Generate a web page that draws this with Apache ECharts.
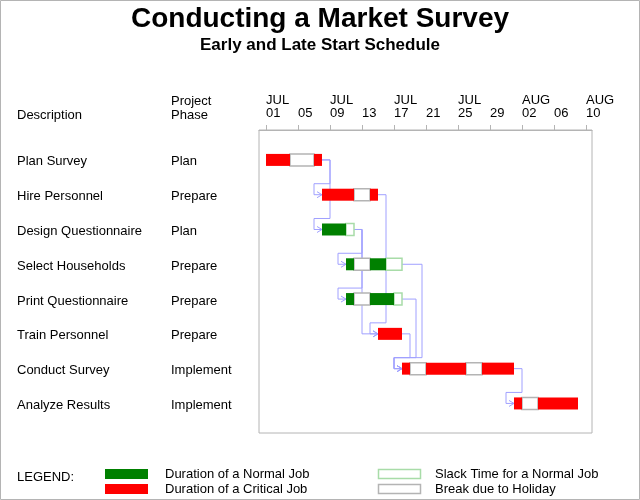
<!DOCTYPE html>
<html>
<head>
<meta charset="utf-8">
<script src="https://cdn.jsdelivr.net/npm/echarts@6/dist/echarts.min.js"></script>
<style>
html,body{margin:0;padding:0;background:#fff;}
#chart{width:640px;height:500px;}
</style>
</head>
<body>
<div id="chart"></div>
<script>
// ---- Data (days counted from JUL 01) ----
const taskNames = ['Plan Survey','Hire Personnel','Design Questionnaire','Select Households','Print Questionnaire','Train Personnel','Conduct Survey','Analyze Results'];
const taskPhases = ['Plan','Prepare','Plan','Prepare','Prepare','Prepare','Implement','Implement'];
const tickDays = [0,4,8,12,16,20,24,28,32,36,40];
const monthNames = ['JAN','FEB','MAR','APR','MAY','JUN','JUL','AUG','SEP','OCT','NOV','DEC'];
// [row, startDay, endDay]
const criticalSegs = [[0,0,3],[0,6,7],[1,7,11],[1,13,14],[5,14,17],[6,17,18],[6,20,25],[6,27,31],[7,31,32],[7,34,39]];
const normalSegs = [[2,7,10],[3,10,11],[3,13,15],[4,10,11],[4,13,16]];
const slackSegs = [[2,10,11],[3,15,17],[4,16,17]];
const holidaySegs = [[0,3,6],[1,11,13],[3,11,13],[4,11,13],[6,18,20],[6,25,27],[7,32,34]];
// precedence links [fromRow, toRow]
const links = [[0,1],[0,2],[1,5],[2,5],[2,3],[2,4],[3,6],[4,6],[5,6],[6,7]];
const legendItems = ['Duration of a Normal Job','Duration of a Critical Job','Slack Time for a Normal Job','Break due to Holiday'];

const FONT = '"Liberation Sans", Arial, sans-serif';
const allSegs = criticalSegs.concat(normalSegs, slackSegs, holidaySegs);
function rowEnd(r){ return Math.max.apply(null, allSegs.filter(s=>s[0]===r).map(s=>s[2])); }
function rowStart(r){ return Math.min.apply(null, allSegs.filter(s=>s[0]===r).map(s=>s[1])); }

// link data with stagger index for links sharing target and source end
const linkData = [];
const groups = {};
links.forEach(l => {
  const key = l[1] + '_' + rowEnd(l[0]);
  (groups[key] = groups[key] || []).push(l);
});
Object.keys(groups).forEach(k => {
  const g = groups[k].slice().sort((a,b)=>b[0]-a[0]);
  g.forEach((l,i) => linkData.push([rowEnd(l[0]), l[0], rowStart(l[1]), l[1], i]));
});

function barSeries(name, data, fill, stroke){
  return {
    type:'custom', name, z:5,
    data,
    encode:{x:[1,2], y:0},
    renderItem(params, api){
      const r = api.value(0), s = api.value(1), e = api.value(2);
      const p0 = api.coord([s, r]), p1 = api.coord([e, r]);
      const h = 12;
      return {type:'rect', shape:{x:p0[0], y:p0[1]-h/2, width:p1[0]-p0[0], height:h},
        style:{fill, stroke: stroke || null, lineWidth: stroke ? 1.5 : 0}};
    }
  };
}

const linkColor = '#a0a0ff';
const option = {
  animation:false,
  backgroundColor:'#fff',
  title:[
    {text:'Conducting a Market Survey', left:'center', top:0,
     textStyle:{fontFamily:FONT, fontSize:28, fontWeight:'bold', color:'#000'}},
    {text:'Early and Late Start Schedule', left:'center', top:32,
     textStyle:{fontFamily:FONT, fontSize:17, fontWeight:'bold', color:'#000'}}
  ],
  grid:{left:259, right:48, top:130, bottom:67, show:true, borderColor:'#b4b4b4', borderWidth:1, backgroundColor:'transparent'},
  xAxis:{
    type:'value', position:'top', min:-0.875, max:40.75,
    splitLine:{show:false},
    axisLine:{show:true, onZero:false, lineStyle:{color:'#b4b4b4'}},
    axisTick:{show:true, customValues:tickDays, length:5, inside:false, lineStyle:{color:'#b4b4b4'}},
    axisLabel:{
      customValues:tickDays, align:'left', margin:10, lineHeight:13,
      fontFamily:FONT, fontSize:13, color:'#000',
      formatter(v){
        const d = new Date(2003, 6, 1 + Math.round(v));
        const idx = tickDays.indexOf(Math.round(v));
        const day = String(d.getDate()).padStart(2,'0');
        return (idx % 2 === 0 ? monthNames[d.getMonth()] : ' ') + '\n' + day;
      }
    }
  },
  yAxis:{
    type:'value', inverse:true, min:-0.86, max:7.85,
    splitLine:{show:false}, axisLine:{show:false}, axisTick:{show:false},
    axisLabel:{
      customValues:[0,1,2,3,4,5,6,7], align:'left', margin:242,
      fontFamily:FONT, fontSize:13, color:'#000',
      formatter(v){ const i = Math.round(v); return '{d|' + taskNames[i] + '}{p|' + taskPhases[i] + '}'; },
      rich:{
        d:{width:154, fontFamily:FONT, fontSize:13, color:'#000', align:'left', padding:[4,0,0,0]},
        p:{fontFamily:FONT, fontSize:13, color:'#000', align:'left', padding:[4,0,0,0]}
      }
    }
  },
  series:[
    {
      type:'custom', name:'links', z:2,
      data: linkData,
      encode:{x:[0,2], y:[1,3]},
      renderItem(params, api){
        const a = api.coord([api.value(0), api.value(1)]);
        const b = api.coord([api.value(2), api.value(3)]);
        const dayPx = api.size([1,0])[0];
        const xr = a[0] + dayPx + api.value(4)*6;
        let pts;
        if (xr < b[0] - 2) {
          pts = [a, [xr,a[1]], [xr,b[1]], b];
        } else {
          const yDrop = b[1] - 11, xl = b[0] - dayPx;
          pts = [a, [xr,a[1]], [xr,yDrop], [xl,yDrop], [xl,b[1]], b];
        }
        return {type:'group', children:[
          {type:'polyline', shape:{points:pts}, style:{stroke:linkColor, lineWidth:1, fill:null}},
          {type:'polyline', shape:{points:[[b[0]-5,b[1]-3],[b[0],b[1]],[b[0]-5,b[1]+3]]}, style:{stroke:linkColor, lineWidth:1, fill:null}}
        ]};
      }
    },
    barSeries('Break due to Holiday', holidaySegs, '#fff', '#b4b4b4'),
    barSeries('Slack Time for a Normal Job', slackSegs, '#fff', '#a8dca8'),
    barSeries('Duration of a Normal Job', normalSegs, '#008000'),
    barSeries('Duration of a Critical Job', criticalSegs, '#ff0000')
  ],
  graphic:[
    {type:'rect', shape:{x:0.5, y:0.5, width:639, height:499}, style:{fill:null, stroke:'#b4b4b4', lineWidth:1}, silent:true},
    {type:'text', x:17, y:115, style:{text:'Description', font:'13px ' + FONT, fill:'#000', verticalAlign:'middle'}},
    {type:'text', x:171, y:108, style:{text:'Project\nPhase', font:'13px ' + FONT, fill:'#000', verticalAlign:'middle', lineHeight:14}},
    {type:'text', x:17, y:477, style:{text:'LEGEND:', font:'13px ' + FONT, fill:'#000', verticalAlign:'middle'}},
    {type:'rect', shape:{x:105, y:469, width:43, height:10}, style:{fill:'#008000'}},
    {type:'rect', shape:{x:105, y:484, width:43, height:10}, style:{fill:'#ff0000'}},
    {type:'text', x:165, y:474, style:{text:legendItems[0], font:'13px ' + FONT, fill:'#000', verticalAlign:'middle'}},
    {type:'text', x:165, y:489, style:{text:legendItems[1], font:'13px ' + FONT, fill:'#000', verticalAlign:'middle'}},
    {type:'rect', shape:{x:378.5, y:469.5, width:42, height:9}, style:{fill:'#fff', stroke:'#a8dca8', lineWidth:1.5}},
    {type:'rect', shape:{x:378.5, y:484.5, width:42, height:9}, style:{fill:'#fff', stroke:'#b4b4b4', lineWidth:1.5}},
    {type:'text', x:435, y:474, style:{text:legendItems[2], font:'13px ' + FONT, fill:'#000', verticalAlign:'middle'}},
    {type:'text', x:435, y:489, style:{text:legendItems[3], font:'13px ' + FONT, fill:'#000', verticalAlign:'middle'}}
  ]
};
const chart = echarts.init(document.getElementById('chart'), null, {renderer:'canvas'});
chart.setOption(option);
</script>
</body>
</html>
